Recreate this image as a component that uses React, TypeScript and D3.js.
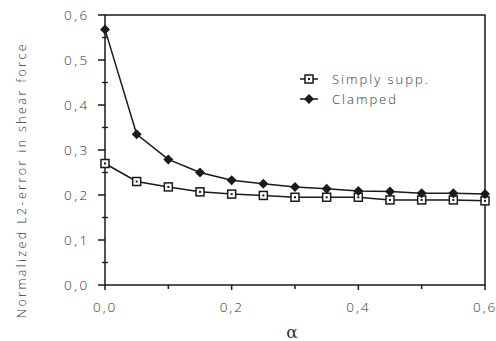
import React from "react";
import * as d3 from "d3";

const alphas = [0, 0.05, 0.1, 0.15, 0.2, 0.25, 0.3, 0.35, 0.4, 0.45, 0.5, 0.55, 0.6];
const simplySupp = [0.27, 0.23, 0.218, 0.207, 0.202, 0.199, 0.195, 0.195, 0.195, 0.189, 0.189, 0.189, 0.187];
const clamped = [0.568, 0.335, 0.279, 0.25, 0.233, 0.225, 0.218, 0.214, 0.209, 0.208, 0.204, 0.204, 0.202];
const xTicks = [0, 0.2, 0.4, 0.6];
const xMinorTicks = [0.1, 0.3, 0.5];
const yTicks = [0, 0.1, 0.2, 0.3, 0.4, 0.5, 0.6];
const yMinorTicks = [0.05, 0.15, 0.25, 0.35, 0.45, 0.55];
const legendLabels = ["Simply supp.", "Clamped"];

const W = 496, H = 341;
const L = 105, R = 485, T = 15, B = 285;
const font = "'Open Sans', 'DejaVu Sans', sans-serif";
const ink = "#1a1a1a";

export default function App() {
  const x = d3.scaleLinear().domain([0, 0.6]).range([L, R]);
  const y = d3.scaleLinear().domain([0, 0.6]).range([B, T]);
  const fmt = (v: number) => v.toFixed(1).replace(".", ",");
  const line = d3.line<number>().x((_, i) => x(alphas[i])).y((d) => y(d));

  const square = (cx: number, cy: number, k: string) => (
    <g key={k}>
      <rect x={cx - 4} y={cy - 4} width={8} height={8} fill="#fff" stroke={ink} strokeWidth={1.5} />
      <rect x={cx - 1} y={cy - 1} width={2} height={2} fill={ink} />
    </g>
  );
  const diamond = (cx: number, cy: number, k: string) => (
    <path key={k} d={`M${cx},${cy - 5}L${cx + 5},${cy}L${cx},${cy + 5}L${cx - 5},${cy}Z`} fill={ink} />
  );

  return (
    <svg width={W} height={H} style={{ position: "absolute", left: 0, top: 0, background: "#fff" }}>
      <rect x={0} y={0} width={W} height={H} fill="#fff" />
      {/* frame */}
      <rect x={L} y={T} width={R - L} height={B - T} fill="none" stroke={ink} strokeWidth={1.5} />
      {/* y ticks */}
      {yTicks.map((t) => (
        <g key={"y" + t}>
          <line x1={L - 7} x2={L} y1={y(t)} y2={y(t)} stroke={ink} strokeWidth={1.5} />
          <text x={L - 41} y={y(t)} dy="0.35em" fontFamily={font} fontWeight={300} fontSize={13.5} letterSpacing={2.5} fill="#333">{fmt(t)}</text>
        </g>
      ))}
      {yMinorTicks.map((t) => (
        <line key={"ym" + t} x1={L - 3} x2={L + 3} y1={y(t)} y2={y(t)} stroke={ink} strokeWidth={1.3} />
      ))}
      {/* x ticks */}
      {xTicks.map((t) => (
        <g key={"x" + t}>
          <line x1={x(t)} x2={x(t)} y1={B} y2={B + 5} stroke={ink} strokeWidth={1.5} />
          <text x={x(t) - 12} y={B + 22} dy="0.35em" fontFamily={font} fontWeight={300} fontSize={13.5} letterSpacing={2} fill="#333">{fmt(t)}</text>
        </g>
      ))}
      {xMinorTicks.map((t) => (
        <line key={"xm" + t} x1={x(t)} x2={x(t)} y1={B} y2={B + 4} stroke={ink} strokeWidth={1.5} />
      ))}
      {/* axis titles */}
      <text x={292} y={338} textAnchor="middle" fontFamily="'DejaVu Serif', serif" fontSize={17} fill="#333">α</text>
      <text transform={`translate(22,${318}) rotate(-90)`} dy="0.35em" fontFamily={font} fontWeight={300} fontSize={12.5} letterSpacing={2.4} fill="#333">Normalized L2-error in shear force</text>
      {/* series */}
      <path d={line(simplySupp) || ""} fill="none" stroke={ink} strokeWidth={1.5} />
      <path d={line(clamped) || ""} fill="none" stroke={ink} strokeWidth={1.5} />
      {simplySupp.map((v, i) => square(x(alphas[i]), y(v), "s" + i))}
      {clamped.map((v, i) => diamond(x(alphas[i]), y(v), "c" + i))}
      {/* legend */}
      <line x1={300} x2={318} y1={79} y2={79} stroke={ink} strokeWidth={1.5} />
      {square(309, 79, "ls")}
      <text x={332} y={79} dy="0.35em" fontFamily={font} fontWeight={300} fontSize={13} letterSpacing={2} fill="#333">{legendLabels[0]}</text>
      <line x1={300} x2={318} y1={99} y2={99} stroke={ink} strokeWidth={1.5} />
      {diamond(309, 99, "lc")}
      <text x={332} y={99} dy="0.35em" fontFamily={font} fontWeight={300} fontSize={13} letterSpacing={2} fill="#333">{legendLabels[1]}</text>
    </svg>
  );
}
